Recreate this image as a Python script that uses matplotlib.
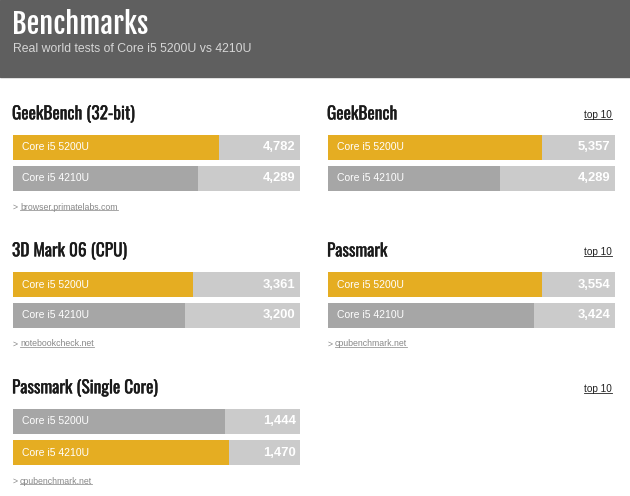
import matplotlib
matplotlib.use("Agg")
import matplotlib.pyplot as plt
import matplotlib.patheffects as pe
from matplotlib.patches import Rectangle
from matplotlib import font_manager as fm

# --- dados
painel_titulos = ["GeekBench (32-bit)", "GeekBench", "3D Mark 06 (CPU)", "Passmark", "Passmark (Single Core)"]
cpu_nomes = [["Core i5 5200U", "Core i5 4210U"]] * 5
valores = [[4782, 4289], [5357, 4289], [3361, 3200], [3554, 3424], [1444, 1470]]
escala_max = [6650, 7170, 5350, 4775, 1955]
fontes = ["browser.primatelabs.com", None, "notebookcheck.net", "cpubenchmark.net", "cpubenchmark.net"]
tem_top10 = [False, True, False, True, True]

W, H = 630, 496
LARANJA = "#e5ad22"
CINZA = "#a6a6a6"
TRILHA = "#cbcbcb"

instaladas = {f.name for f in fm.fontManager.ttflist}


def escolher(*nomes):
    return [n for n in nomes if n in instaladas] + ["DejaVu Sans"]


FONTE_CABECALHO = escolher("Fjalla One", "Oswald", "Antonio")
FONTE_TITULO = escolher("Oswald", "Fjalla One", "Antonio")
FONTE_TEXTO = escolher("Liberation Sans", "Arimo")

fig = plt.figure(figsize=(W / 100, H / 100), dpi=100)
fig.patch.set_facecolor("white")


def fx(x):
    return x / W


def fy(y):
    return 1 - y / H


def sublinhar(txt, cor):
    fig.canvas.draw()
    bb = txt.get_window_extent()
    y = bb.y0 + 1.5
    fig.add_artist(plt.Line2D([bb.x0 / W, bb.x1 / W], [y / H, y / H], color=cor, lw=0.6))


# --- cabeçalho
fig.add_artist(Rectangle((0, fy(77)), 1, 77 / H, transform=fig.transFigure, color="#5f5f5f", zorder=0))
fig.text(fx(12), fy(25), "Benchmarks", color="white", fontsize=20.5,
         family=FONTE_CABECALHO, va="center", ha="left")
fig.text(fx(13), fy(49), "Real world tests of Core i5 5200U vs 4210U", color="#d6d6d6",
         fontsize=8.8, family=FONTE_TEXTO, va="center", ha="left")

# posições dos painéis (esquerda, topo das barras)
posicoes = [(13, 135), (328, 135), (13, 272), (328, 272), (13, 409)]
largura = 287

for i in range(5):
    x0, y0 = posicoes[i]
    ax = fig.add_axes([fx(x0), fy(y0 + 56), largura / W, 56 / H])
    vals = valores[i]
    m = escala_max[i]
    vencedor = vals.index(max(vals))
    cores = [LARANJA if k == vencedor else CINZA for k in range(2)]
    ax.barh([0, 1], [m, m], height=25 / 31, color=TRILHA, left=0)
    ax.barh([0, 1], vals, height=25 / 31, color=cores)
    for k in range(2):
        ax.text(m * 0.03, k, cpu_nomes[i][k], color="white", fontsize=7.5,
                family=FONTE_TEXTO, va="center", ha="left")
        ax.text(m * 0.985, k, f"{vals[k]:,}", color="white", fontsize=9.4,
                fontweight="bold", family=FONTE_TEXTO, va="center", ha="right")
    ax.set_xlim(0, m)
    ax.set_ylim(1 + 12.5 / 31, -12.5 / 31)
    ax.axis("off")

    # título do painel
    fig.text(fx(x0 - 1), fy(y0 - 21), painel_titulos[i], color="#1a1a1a", fontsize=12.5,
             family=FONTE_TITULO, va="center", ha="left",
             path_effects=[pe.withStroke(linewidth=0.25, foreground="#1a1a1a")])
    if tem_top10[i]:
        t = fig.text(fx(612), fy(y0 - 20), "top 10", color="#222222", fontsize=7.2,
                     family=FONTE_TEXTO, va="center", ha="right")
        sublinhar(t, "#222222")
    if fontes[i]:
        fig.text(fx(x0), fy(y0 + 72), ">", color="#888888", fontsize=6.3,
                 family=FONTE_TEXTO, va="center", ha="left")
        t = fig.text(fx(x0 + 7), fy(y0 + 72), fontes[i], color="#888888", fontsize=6.3,
                     family=FONTE_TEXTO, va="center", ha="left")
        sublinhar(t, "#999999")

fig.savefig("out.png", dpi=100)
plt.close()
